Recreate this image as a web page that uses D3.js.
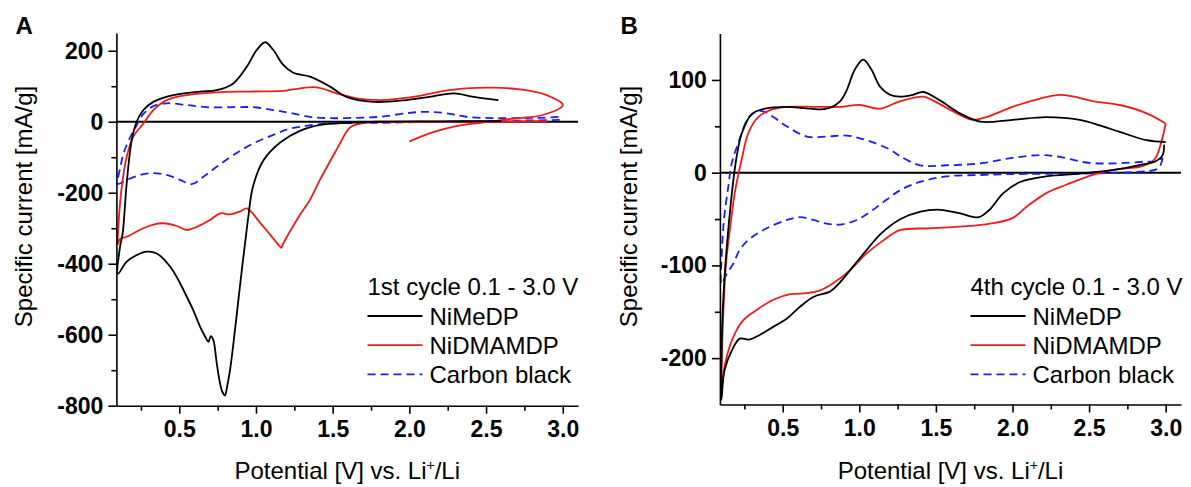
<!DOCTYPE html>
<html>
<head>
<meta charset="utf-8">
<script src="https://cdn.jsdelivr.net/npm/d3@7"></script>
<style>
  html, body { margin: 0; padding: 0; background: #fff; }
  svg { display: block; font-family: "Liberation Sans", Arial, sans-serif; }
</style>
</head>
<body>
<div id="chart"></div>
<script>
// shared potential axis (V)
const potentialDomain = [0.09, 3.1];
const potentialMajor = [0.5, 1.0, 1.5, 2.0, 2.5, 3.0];
const potentialMinor = [0.25, 0.75, 1.25, 1.75, 2.25, 2.75];

const seriesNames = ['NiMeDP', 'NiDMAMDP', 'Carbon black'];

// panel A - 1st cycle, points are [potential V, current mA/g]
const cycle1Domain = [-800, 250];
const cycle1Major = [-800, -600, -400, -200, 0, 200];
const cycle1Minor = [-700, -500, -300, -100, 100];

const cycle1NiMeDP = [
  [2.6, 2], [2.2, 1], [1.8, 0], [1.6, -3], [1.42, -9], [1.29, -25], [1.16, -58], [1.05, -108],
  [0.98, -183], [0.95, -268], [0.935, -320], [0.9, -446], [0.863, -587], [0.831, -699], [0.81, -750],
  [0.798, -771], [0.78, -760], [0.765, -736], [0.744, -680], [0.722, -615], [0.705, -604], [0.69, -620],
  [0.668, -605], [0.635, -577], [0.59, -530], [0.549, -493], [0.505, -455], [0.44, -408], [0.353, -371],
  [0.288, -366], [0.22, -376], [0.157, -394], [0.1, -428],
  [0.114, -352], [0.131, -314], [0.157, -174], [0.19, -52], [0.222, 0], [0.266, 33], [0.331, 56],
  [0.461, 75], [0.635, 85], [0.744, 89], [0.852, 108], [0.94, 155], [1.005, 202], [1.06, 224],
  [1.113, 202], [1.178, 160], [1.243, 138], [1.352, 127], [1.483, 99], [1.59, 70], [1.765, 56],
  [1.98, 61], [2.13, 70], [2.29, 80], [2.42, 70], [2.58, 61]
];
const cycle1NiDMAMDP = [
  [2.9, 2], [2.5, 0], [2.0, -1], [1.7, -4], [1.62, -14], [1.59, -28], [1.548, -61], [1.417, -164],
  [1.352, -220], [1.287, -262], [1.178, -343], [1.165, -355], [1.157, -352], [1.092, -318], [1.026, -284],
  [0.94, -244], [0.896, -253], [0.83, -261], [0.766, -258], [0.70, -277], [0.614, -296], [0.549, -305],
  [0.48, -293], [0.396, -286], [0.33, -290], [0.266, -300], [0.157, -324], [0.114, -330], [0.1, -345],
  [0.103, -296], [0.125, -183], [0.157, -99], [0.2, -42], [0.266, -5], [0.331, 33], [0.418, 61],
  [0.548, 75], [0.744, 83], [0.96, 85], [1.178, 87], [1.243, 91], [1.396, 97], [1.526, 80],
  [1.657, 66], [1.81, 61], [2.026, 70], [2.2, 85], [2.37, 94], [2.547, 96], [2.72, 91], [2.895, 75],
  [3.0, 47], [2.87, 19], [2.68, 9], [2.46, -3], [2.29, -14], [2.13, -33], [2.0, -56]
];
const cycle1Carbon = [
  [2.98, 5], [2.68, 3], [2.24, 0], [1.81, -3], [1.44, -6], [1.29, -14], [1.2, -22], [1.113, -37],
  [0.983, -61], [0.852, -94], [0.744, -127], [0.657, -155], [0.581, -176], [0.505, -164], [0.418, -150],
  [0.331, -145], [0.244, -150], [0.157, -164], [0.1, -175],
  [0.115, -130], [0.14, -85], [0.19, -35], [0.222, -10], [0.266, 22], [0.331, 44], [0.418, 52],
  [0.549, 47], [0.679, 41], [0.852, 41], [0.983, 41], [1.113, 33], [1.22, 25], [1.35, 14], [1.483, 10],
  [1.65, 11], [1.81, 14], [1.98, 24], [2.11, 28], [2.24, 24], [2.37, 14], [2.57, 10], [2.9, 12], [2.98, 14]
];

// panel B - 4th cycle
const cycle4Domain = [-250, 150];
const cycle4Major = [-200, -100, 0, 100];
const cycle4Minor = [-150, -50, 50];

const cycle4NiMeDP = [
  [2.99, 30], [2.98, 19], [2.93, 12], [2.85, 9], [2.66, 3], [2.44, -1], [2.22, -4], [2.05, -10], [1.94, -22],
  [1.85, -40], [1.78, -48], [1.66, -44], [1.53, -40], [1.4, -42], [1.27, -50], [1.14, -66], [1.05, -83],
  [0.96, -101], [0.87, -119], [0.81, -128], [0.7, -134], [0.61, -145], [0.53, -157], [0.44, -166],
  [0.35, -175], [0.28, -180], [0.22, -179], [0.17, -191], [0.12, -213], [0.1, -245],
  [0.104, -170], [0.119, -116], [0.14, -70], [0.16, -35], [0.178, -8], [0.2, 18], [0.232, 42],
  [0.297, 63], [0.384, 69], [0.526, 71], [0.678, 69], [0.787, 69], [0.874, 77], [0.918, 89],
  [0.97, 111], [1.026, 122], [1.08, 111], [1.135, 93], [1.2, 84], [1.265, 82], [1.35, 84], [1.418, 87],
  [1.526, 78], [1.657, 64], [1.79, 55], [2.0, 57], [2.22, 60], [2.44, 57], [2.57, 51], [2.7, 44],
  [2.876, 35], [3.0, 33]
];
const cycle4NiDMAMDP = [
  [3.0, 53], [2.97, 32], [2.93, 15], [2.85, 7], [2.70, 4], [2.53, -2], [2.35, -13], [2.22, -22],
  [2.09, -37], [2.0, -49], [1.853, -55], [1.68, -58], [1.46, -60], [1.265, -62], [1.157, -73],
  [1.048, -87], [0.94, -105], [0.831, -119], [0.744, -127], [0.657, -130], [0.548, -131], [0.439, -137],
  [0.33, -148], [0.243, -159], [0.178, -177], [0.124, -206], [0.1, -235],
  [0.102, -206], [0.112, -152], [0.13, -98], [0.16, -55], [0.19, -19], [0.232, 14], [0.276, 43],
  [0.34, 60], [0.426, 68], [0.526, 71], [0.722, 71], [0.874, 71], [1.005, 73], [1.135, 69],
  [1.265, 77], [1.42, 82], [1.48, 78], [1.636, 64], [1.74, 57], [1.83, 60], [2.0, 71], [2.18, 80],
  [2.31, 84], [2.40, 82], [2.53, 77], [2.70, 73], [2.876, 64], [3.0, 53]
];
const cycle4Carbon = [
  [2.98, 16], [2.96, 6], [2.93, 3], [2.83, 1], [2.44, -1], [2.0, -1.5], [1.79, -2.5], [1.57, -4],
  [1.396, -10], [1.265, -19], [1.18, -29], [1.09, -40], [0.983, -51], [0.874, -56], [0.787, -55],
  [0.7, -51], [0.613, -48], [0.526, -51], [0.395, -60], [0.287, -71], [0.22, -83], [0.178, -98],
  [0.135, -109], [0.1, -120],
  [0.102, -90], [0.108, -69], [0.12, -45], [0.145, -15], [0.167, 10], [0.21, 32], [0.276, 59],
  [0.33, 66], [0.374, 66], [0.439, 60], [0.526, 50], [0.657, 39], [0.787, 39], [0.918, 40], [1.048, 35],
  [1.2, 25], [1.265, 18], [1.396, 8], [1.57, 8], [1.79, 10], [2.0, 16], [2.18, 19], [2.31, 17],
  [2.48, 11], [2.67, 10], [2.876, 12], [2.93, 12], [2.98, 16]
];

const colors = ['#000000', '#ee1c1c', '#1c1cff'];
const dashes = [null, null, '8,5'];

const width = 1191, height = 487;
const svg = d3.select('#chart').append('svg')
  .attr('width', width)
  .attr('height', height);

const drawPanel = (p) => {
  const x = d3.scaleLinear().domain(potentialDomain).range(p.xRange);
  const y = d3.scaleLinear().domain(p.yDomain).range(p.yRange);
  const g = svg.append('g');

  // zero line
  g.append('path')
    .attr('d', d3.line()([[x(potentialDomain[0]), y(0)], [x(potentialDomain[1]), y(0)]]))
    .attr('stroke', '#000')
    .attr('stroke-width', 2);

  const line = d3.line()
    .x(d => x(d[0]))
    .y(d => y(d[1]))
    .curve(d3.curveCatmullRom.alpha(0.5));

  // carbon first, then red, black on top
  [2, 1, 0].forEach(i => {
    g.append('path')
      .datum(p.series[i])
      .attr('d', line)
      .attr('fill', 'none')
      .attr('stroke', colors[i])
      .attr('stroke-width', 1.8)
      .attr('stroke-dasharray', dashes[i]);
  });

  // axes
  const y0 = p.yRange[0], x0 = p.xRange[0];
  const xAxis = g.append('g').attr('transform', 'translate(0,' + y0 + ')')
    .call(d3.axisBottom(x).tickValues(potentialMajor).tickFormat(d => d.toFixed(1))
      .tickSize(8).tickPadding(7).tickSizeOuter(0));
  g.append('g').attr('transform', 'translate(0,' + y0 + ')')
    .call(d3.axisBottom(x).tickValues(potentialMinor).tickFormat('').tickSize(5).tickSizeOuter(0))
    .select('.domain').remove();
  const yAxis = g.append('g').attr('transform', 'translate(' + x0 + ',0)')
    .call(d3.axisLeft(y).tickValues(p.yMajor).tickFormat(d => String(d))
      .tickSize(8).tickPadding(5).tickSizeOuter(0));
  g.append('g').attr('transform', 'translate(' + x0 + ',0)')
    .call(d3.axisLeft(y).tickValues(p.yMinor).tickFormat('').tickSize(5).tickSizeOuter(0))
    .select('.domain').remove();

  g.selectAll('.domain, .tick line').attr('stroke', '#000').attr('stroke-width', 1.6);
  [xAxis, yAxis].forEach(a => a.selectAll('text')
    .attr('font-family', '"Liberation Sans", Arial, sans-serif')
    .attr('font-size', 23)
    .attr('font-weight', 'bold')
    .attr('fill', '#000'));

  // panel letter
  g.append('text')
    .attr('x', p.letterX).attr('y', 34)
    .attr('font-size', 24).attr('font-weight', 'bold')
    .text(p.letter);

  // axis titles
  g.append('text')
    .attr('transform', 'translate(' + p.yTitleX + ',206.5) rotate(-90)')
    .attr('text-anchor', 'middle')
    .attr('font-size', 24)
    .text('Specific current [mA/g]');

  const xt = g.append('text')
    .attr('x', (p.xRange[0] + p.xRange[1]) / 2)
    .attr('y', 479)
    .attr('text-anchor', 'middle')
    .attr('font-size', 24);
  xt.append('tspan').text('Potential [V] vs. Li');
  xt.append('tspan').attr('dy', -9).attr('font-size', 14).text('+');
  xt.append('tspan').attr('dy', 9).text('/Li');

  // legend
  g.append('text')
    .attr('x', p.legendX).attr('y', 294.5)
    .attr('font-size', 24)
    .text(p.title);
  seriesNames.forEach((name, i) => {
    const by = 324.5 + i * 29.2;
    g.append('line')
      .attr('x1', p.legendX).attr('x2', p.legendX + 55)
      .attr('y1', by - 8.5).attr('y2', by - 8.5)
      .attr('stroke', colors[i])
      .attr('stroke-width', 1.8)
      .attr('stroke-dasharray', dashes[i]);
    g.append('text')
      .attr('x', p.legendX + 62).attr('y', by)
      .attr('font-size', 24)
      .text(name);
  });
};

drawPanel({
  letter: 'A', letterX: 15.5, title: '1st cycle 0.1 - 3.0 V',
  xRange: [116.4, 578.1], yDomain: cycle1Domain, yRange: [405.7, 33],
  yMajor: cycle1Major, yMinor: cycle1Minor,
  series: [cycle1NiMeDP, cycle1NiDMAMDP, cycle1Carbon],
  yTitleX: 32, legendX: 367.5
});

drawPanel({
  letter: 'B', letterX: 620.5, title: '4th cycle 0.1 - 3.0 V',
  xRange: [719.9, 1181], yDomain: cycle4Domain, yRange: [404.5, 33.6],
  yMajor: cycle4Major, yMinor: cycle4Minor,
  series: [cycle4NiMeDP, cycle4NiDMAMDP, cycle4Carbon],
  yTitleX: 636.5, legendX: 970.5
});
</script>
</body>
</html>
